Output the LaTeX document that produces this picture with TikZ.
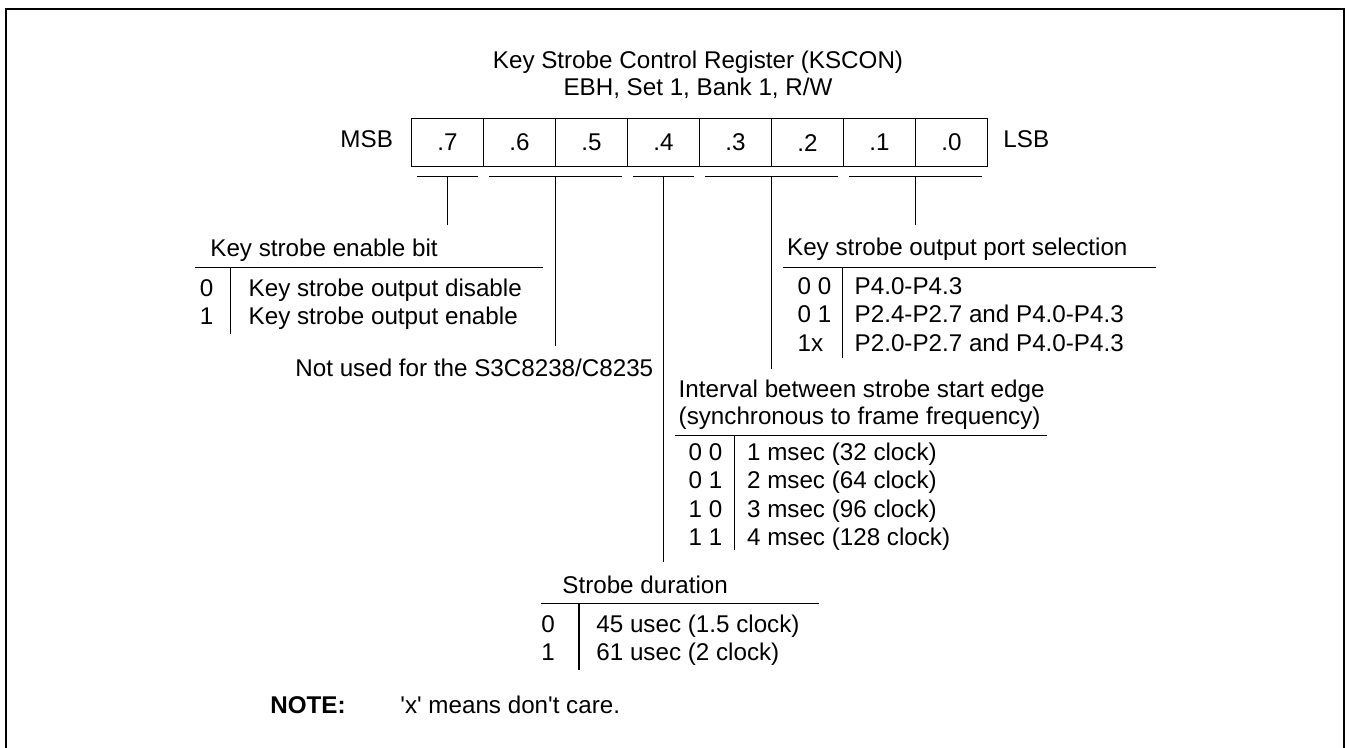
\documentclass[tikz,border=0pt]{standalone}
\usepackage{fontspec}
\setmainfont{Liberation Sans}
\usetikzlibrary{positioning}

\begin{document}
\begin{tikzpicture}[x=0.5pt, y=-0.5pt,
  font=\fontsize{12.1}{14.5}\selectfont,
  txt/.style={anchor=base west, inner sep=0pt},
  key/.style={txt, anchor=base},
  cell/.style={draw, line width=0.75pt, minimum width=36pt, minimum height=23.85pt,
    inner sep=0pt, anchor=north west},
  rule/.style={line width=0.65pt}]
\useasboundingbox (0,0) rectangle (1349,748);
\draw[line width=1.15pt] (6,748) -- (6,9) -- (1344,9) -- (1344,748);

% register
\node[key] (title) at (698,69) {Key Strobe Control Register (KSCON)};
\node[key] (addr)  at (698,96) {EBH, Set 1, Bank 1, R/W};
\foreach \b [count=\i from 0] in {7,6,5,4,3,2,1,0}
  \node[cell] (b\b) at (410.7+72*\i,118) {.\b};
\node[txt, anchor=base east] (msb) at (393.3,148) {MSB};
\node[txt] (lsb) at (1003,148) {LSB};

% bit fields
\foreach \a/\z/\n in {7/7/en, 6/5/nu, 4/4/sd, 3/2/iv, 1/0/ps}
  \draw[rule] ([xshift=3pt,yshift=-4.65pt]b\a.south west) -- coordinate (\n)
    ([xshift=-3pt,yshift=-4.65pt]b\z.south east);
\coordinate (en end) at (en |- 0,225);
\coordinate (nu end) at (nu |- 0,345.7);
\coordinate (sd end) at (sd |- 0,562.3);
\coordinate (iv end) at (iv |- 0,369);
\coordinate (ps end) at (ps |- 0,225);
\foreach \n in {en,nu,sd,iv,ps} \draw[rule] (\n) -- (\n\space end);

% key strobe enable bit
\node[txt] (en head) at (210,256.7) {Key strobe enable bit};
\draw[rule] (195,267.7) -- (543.3,267.7);
\draw[rule] (230.7,267.7) -- (230.7,334);
\foreach \k/\v [count=\r from 0] in {0/Key strobe output disable, 1/Key strobe output enable} {
  \node[key] (en k\r) at (206.5,296.7+28.3*\r) {\k};
  \node[txt] (en v\r) at (248.3,296.7+28.3*\r) {\v};
}

\node[txt] (nu text) at (295,376.7) {Not used for the S3C8238/C8235};

% key strobe output port selection
\node[txt] (ps head) at (786.7,256) {Key strobe output port selection};
\draw[rule] (782.7,267.7) -- (1156,267.7);
\draw[rule] (842.3,267.7) -- (842.3,358);
\foreach \k/\v [count=\r from 0] in {0 0/P4.0-P4.3, 0 1/P2.4-P2.7 and P4.0-P4.3, 1x/P2.0-P2.7 and P4.0-P4.3} {
  \node[txt] (ps k\r) at (797.3,294.5+28.3*\r) {\k};
  \node[txt] (ps v\r) at (854.3,294.5+28.3*\r) {\v};
}

% interval
\node[txt] (iv head) at (678.3,397.3) {Interval between strobe start edge};
\node[txt] (iv head2) at (678.3,425) {(synchronous to frame frequency)};
\draw[rule] (675,435.7) -- (1046.7,435.7);
\draw[rule] (734.3,435.7) -- (734.3,550);
\foreach \k/\v [count=\r from 0] in {0 0/1 msec (32 clock), 0 1/2 msec (64 clock),
    1 0/3 msec (96 clock), 1 1/4 msec (128 clock)} {
  \node[txt] (iv k\r) at (688.3,460+28.5*\r) {\k};
  \node[txt] (iv v\r) at (746.7,460+28.5*\r) {\v};
}

% strobe duration
\node[txt] (sd head) at (562,593.3) {Strobe duration};
\draw[rule] (541,603.3) -- (819.3,603.3);
\draw[rule] (579,603.3) -- (579,670);
\foreach \k/\v [count=\r from 0] in {0/45 usec (1.5 clock), 1/61 usec (2 clock)} {
  \node[key] (sd k\r) at (548,632.3+27.7*\r) {\k};
  \node[txt] (sd v\r) at (596,632.3+27.7*\r) {\v};
}

\node[txt] (note) at (270,713.3) {\textbf{NOTE:}};
\node[txt] (note text) at (400,713.3) {\textquotesingle x\textquotesingle{} means don\textquotesingle t care.};
\end{tikzpicture}
\end{document}
